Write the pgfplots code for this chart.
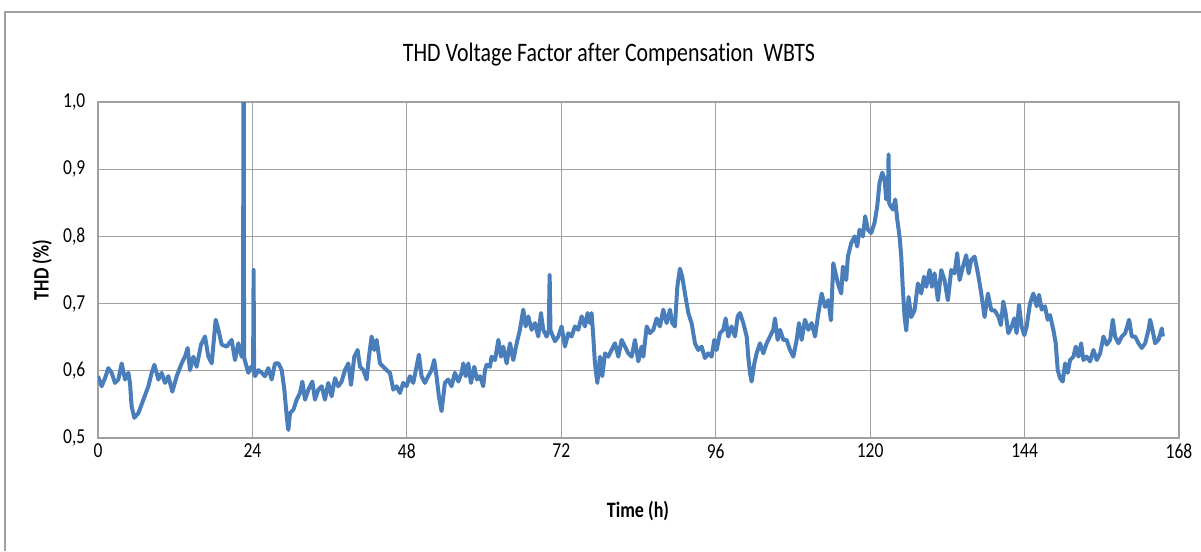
\documentclass[border=0pt]{standalone}
\usepackage{fontspec}
\setmainfont{Carlito}[FakeStretch=0.82, Ligatures=NoCommon]
\usepackage{pgfplots}
\pgfplotsset{compat=1.18}
\definecolor{series}{HTML}{4A7EBB}
\definecolor{gridc}{HTML}{A0A0A0}
\begin{document}
\begin{tikzpicture}[x=1pt,y=1pt]
\path[use as bounding box] (0,0) rectangle (900.75,413.25);
\draw[gridc, line width=0.9pt] (3.75,0) -- (3.75,404.25) -- (900.75,404.25);
\begin{axis}[
  at={(73.5pt,84.75pt)}, anchor=south west,
  scale only axis, width=810.75pt, height=252pt,
  xmin=0, xmax=168, ymin=0.5, ymax=1.0,
  xtick={0,24,48,72,96,120,144,168},
  xticklabels={0,24,48,72,96,120,144,168},
  ytick={0.5,0.6,0.7,0.8,0.9,1.0},
  yticklabels={{0,5},{0,6},{0,7},{0,8},{0,9},{1,0}},
  grid=major, major grid style={gridc, line width=0.9pt},
  axis line style={gridc, line width=0.9pt},
  tick style={draw=none},
  ticklabel style={font=\fontsize{16}{18}\selectfont},
  xticklabel style={yshift=-1pt},
  yticklabel style={xshift=-6pt},
]
\addplot[series, line width=3pt, line join=round] coordinates {
(0.00,0.592) (0.57,0.577) (1.09,0.589) (1.61,0.604) (2.12,0.597) (2.64,0.582)
(3.16,0.587) (3.68,0.611) (4.20,0.587) (4.72,0.597) (4.97,0.582) (5.23,0.547)
(5.65,0.530) (6.27,0.537) (7.05,0.557) (7.83,0.577) (8.34,0.597) (8.76,0.609)
(9.38,0.587) (9.89,0.597) (10.41,0.582) (10.93,0.592) (11.55,0.569) (12.23,0.592)
(13.00,0.611) (13.52,0.621) (13.93,0.634) (14.30,0.601) (14.82,0.621) (15.33,0.606)
(16.01,0.639) (16.63,0.651) (17.15,0.621) (17.67,0.611) (18.29,0.676) (18.71,0.661)
(19.22,0.639) (20.00,0.636) (20.77,0.646) (21.29,0.616) (21.81,0.641) (22.33,0.621)
(22.55,0.625) (22.62,1.300) (22.70,0.620) (22.95,0.611) (23.36,0.597) (23.78,0.606)
(24.10,0.600) (24.18,0.750) (24.26,0.600) (24.40,0.592) (24.92,0.601) (25.44,0.597)
(25.95,0.592) (26.47,0.604) (26.99,0.587) (27.51,0.611)
(28.03,0.611) (28.55,0.601) (28.96,0.572) (29.33,0.532) (29.58,0.512) (29.84,0.537)
(30.36,0.542) (30.88,0.557) (31.39,0.567) (31.76,0.584) (32.17,0.557) (32.69,0.572)
(33.31,0.584) (33.72,0.557) (34.24,0.572) (34.76,0.577) (35.27,0.557) (35.79,0.582)
(36.31,0.562) (36.83,0.589) (37.34,0.577) (37.86,0.584) (38.38,0.601) (38.90,0.611)
(39.32,0.579) (39.83,0.621) (40.35,0.631) (40.72,0.606) (41.23,0.601) (41.75,0.587)
(42.11,0.621) (42.52,0.651) (42.94,0.631) (43.30,0.646) (43.82,0.611) (44.33,0.606)
(44.85,0.601) (45.37,0.597) (45.89,0.572) (46.40,0.577) (46.92,0.567) (47.44,0.582)
(47.95,0.577) (48.47,0.592) (48.99,0.582) (49.50,0.606) (49.87,0.624) (50.28,0.592)
(50.80,0.582) (51.32,0.592) (51.84,0.601) (52.25,0.616) (52.61,0.592) (52.98,0.562)
(53.39,0.540) (53.91,0.582) (54.43,0.587) (54.94,0.577) (55.46,0.597)
(56.00,0.584) (56.51,0.597) (56.77,0.611) (57.14,0.592) (57.55,0.611) (57.96,0.582)
(58.48,0.606) (58.90,0.587) (59.37,0.592) (59.87,0.577) (60.14,0.601) (60.40,0.609)
(60.91,0.606) (61.17,0.621) (61.70,0.616) (62.22,0.646) (62.63,0.621) (62.99,0.636)
(63.51,0.611) (64.03,0.641) (64.54,0.616) (65.07,0.641) (65.57,0.661) (66.09,0.691)
(66.46,0.666) (66.87,0.681) (67.39,0.661) (67.91,0.671) (68.42,0.651) (68.84,0.686)
(69.20,0.661) (69.72,0.651) (70.05,0.660) (70.19,0.743) (70.32,0.660) (70.50,0.656)
(71.01,0.644) (71.53,0.651) (72.05,0.666) (72.57,0.636) (73.09,0.656) (73.60,0.651)
(74.12,0.666) (74.64,0.661) (75.16,0.681) (75.67,0.666) (76.09,0.686) (76.45,0.671)
(76.71,0.686) (76.97,0.651) (77.23,0.611) (77.60,0.582) (78.01,0.621) (78.37,0.592)
(78.79,0.626) (79.30,0.621) (79.82,0.631) (80.34,0.641) (80.86,0.621) (81.38,0.646)
(81.90,0.636) (82.41,0.626) (82.93,0.621) (83.45,0.646)
(83.97,0.614) (84.48,0.636) (84.75,0.621) (85.27,0.666) (85.78,0.656) (86.30,0.661)
(86.82,0.678) (87.33,0.666) (87.85,0.691) (88.37,0.671) (88.89,0.691) (89.25,0.671)
(89.66,0.666) (90.03,0.725) (90.44,0.752) (90.80,0.740) (91.22,0.715) (91.74,0.686)
(92.25,0.671) (92.77,0.641) (93.29,0.631) (93.81,0.636) (94.33,0.619) (94.84,0.626)
(95.36,0.621) (95.78,0.646) (96.14,0.631) (96.66,0.656) (97.17,0.661) (97.54,0.678)
(97.95,0.651) (98.47,0.666) (98.99,0.651) (99.41,0.681) (99.77,0.686) (100.29,0.671)
(100.81,0.651) (101.06,0.621) (101.32,0.597) (101.58,0.584) (102.00,0.611) (102.36,0.626)
(102.88,0.641) (103.40,0.626) (103.92,0.641) (104.43,0.651) (104.95,0.661) (105.21,0.678)
(105.62,0.646) (105.99,0.661) (106.51,0.646) (107.02,0.646) (107.54,0.631) (108.06,0.621)
(108.58,0.646) (108.94,0.671) (109.36,0.646) (109.87,0.676) (110.39,0.661) (110.91,0.671)
(111.43,0.651)
(111.94,0.685) (112.46,0.715) (112.98,0.695) (113.49,0.705) (113.91,0.675) (114.27,0.760)
(114.63,0.745) (114.99,0.730) (115.50,0.715) (115.76,0.755) (116.28,0.735) (116.54,0.770)
(117.06,0.790) (117.58,0.800) (117.99,0.785) (118.35,0.810) (118.87,0.800) (119.23,0.830)
(119.65,0.810) (120.16,0.805) (120.68,0.820) (121.10,0.845) (121.46,0.880) (121.88,0.895)
(122.24,0.885) (122.50,0.855) (122.78,0.870) (122.86,0.922) (122.95,0.850) (123.17,0.845)
(123.54,0.840) (123.90,0.855) (124.21,0.825) (124.57,0.800) (124.83,0.770) (125.09,0.720)
(125.35,0.680) (125.61,0.660) (125.97,0.710) (126.39,0.680) (126.90,0.690) (127.42,0.730)
(127.94,0.715) (128.36,0.740) (128.72,0.725) (129.24,0.750) (129.60,0.725) (130.01,0.745)
(130.53,0.705) (131.05,0.750) (131.56,0.735) (132.08,0.705) (132.60,0.750) (133.12,0.745)
(133.53,0.775) (133.90,0.735) (134.42,0.755) (134.93,0.772) (135.30,0.745) (135.71,0.765)
(136.23,0.770) (136.75,0.745) (137.27,0.715) (137.78,0.680) (138.30,0.715) (138.82,0.690)
(139.34,0.690)
(139.91,0.681) (140.32,0.668) (140.69,0.703) (141.05,0.686) (141.47,0.656) (141.99,0.666)
(142.40,0.678) (142.76,0.656) (143.13,0.698) (143.54,0.666) (143.96,0.653) (144.32,0.666)
(144.84,0.700) (145.36,0.715) (145.88,0.696) (146.24,0.713) (146.66,0.691) (147.17,0.696)
(147.59,0.676) (147.95,0.683) (148.47,0.661) (148.84,0.641) (149.15,0.601) (149.51,0.589)
(149.93,0.584) (150.29,0.611) (150.70,0.597) (151.07,0.616) (151.59,0.621) (151.95,0.636)
(152.37,0.621) (152.78,0.641) (153.14,0.616) (153.66,0.621) (154.18,0.614) (154.70,0.631)
(155.22,0.616) (155.74,0.626) (156.26,0.651) (156.77,0.639) (157.29,0.646) (157.71,0.676)
(158.07,0.651) (158.59,0.641) (159.11,0.651) (159.63,0.656) (160.25,0.676) (160.66,0.651)
(161.18,0.651) (161.70,0.641) (162.22,0.634) (162.74,0.641) (163.26,0.661) (163.51,0.676)
(163.88,0.661) (164.29,0.641) (164.81,0.646) (165.33,0.663) (165.49,0.651)
};
\end{axis}
\node[font=\fontsize{20}{24}\selectfont] at (456.75,372) {THD Voltage Factor after Compensation\ \ WBTS};
\node[font=\fontsize{16.5}{18}\selectfont\bfseries, rotate=90] at (31.5,210.75) {THD (\%)};
\node[font=\fontsize{16.5}{18}\selectfont\bfseries] at (478.5,30) {Time (h)};
\end{tikzpicture}
\end{document}
